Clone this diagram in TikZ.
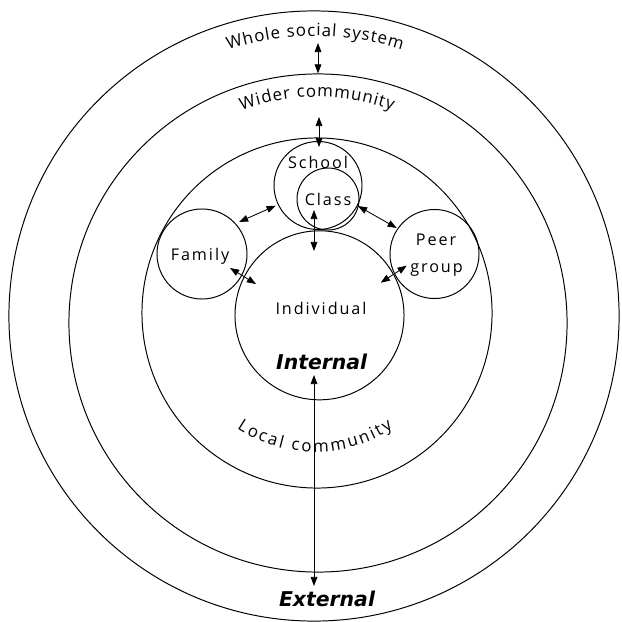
\documentclass[tikz,border=0pt]{standalone}
\usepackage{fontspec}
\usepackage{tikz}
\usetikzlibrary{arrows.meta,decorations.text}
\newfontfamily\lblfont[LetterSpace=12]{Open Sans}
\newfontfamily\arcfont{Open Sans}
\newfontfamily\bigfont{DejaVu Sans}
\tikzset{
  ring/.style={draw,circle,line width=0.7pt,inner sep=0pt},
  arr/.style={{Triangle[length=6.5pt,width=4.8pt]}-{Triangle[length=6.5pt,width=4.8pt]},line width=0.6pt},
  lbl/.style={font=\lblfont\fontsize{11.5}{13}\selectfont,inner sep=0pt,anchor=base},
  big/.style={font=\bigfont\bfseries\itshape\fontsize{14.5}{16}\selectfont,inner sep=0pt,anchor=base},
  arctext/.style 2 args={decorate,font=\arcfont\fontsize{12}{14}\selectfont,
    decoration={text effects along path,text={#1},text align=center,
      text effects/.cd,text along path,
      characters={font=\arcfont\fontsize{12}{14}\selectfont},
      character widths={inner xsep=#2}}},
}
\begin{document}
\begin{tikzpicture}[x=0.025cm,y=0.025cm]
    \useasboundingbox (0,0) rectangle (622,621);

    % the rings
    \node[ring,minimum size=15.25cm] (whole) at (314,305) {}; % whole social system
    \node[ring,minimum size=12.45cm] (wider) at (318,298) {}; % wider community
    \node[ring,minimum size=8.75cm] (local) at (317,308) {}; % local community
    \node[ring,minimum size=4.225cm] (indiv) at (319.5,305.7) {}; % individual
    \node[ring,minimum size=2.2cm] (school) at (318,435.5) {};
    \node[ring,minimum size=1.55cm] (class) at (328,422) {};
    \node[ring,minimum size=2.25cm] (family) at (202,367) {};
    \node[ring,minimum size=2.225cm] (peer) at (434.5,367) {};

    % labels
    \node[lbl] (schoollbl) at (318,453) {School};
    \node[lbl] (classlbl) at (328,416) {Class};
    \node[lbl] (familylbl) at (200,361) {Family};
    \node[lbl] (peerlbl) at (436,376) {Peer};
    \node[lbl] (grouplbl) at (436.5,349) {group};
    \node[lbl] (indivlbl) at (321,307) {Individual};
    \node[big] (internal) at (321.7,252) {Internal};
    \node[big] (external) at (327,14.3) {External};

    % labels bent along the rings
    \path[arctext={Whole social system}{0.35pt}]
        (315,305) ++(120:280) arc[start angle=120,end angle=60,radius=280];
    \path[arctext={Wider community}{0.35pt}]
        (317,304) ++(120:220) arc[start angle=120,end angle=60,radius=220];
    \path[arctext={Local community}{0.8pt}]
        (315,309) ++(220:140) arc[start angle=220,end angle=320,radius=140];

    % arrow ends
    \coordinate (wholelow) at (318,578);
    \coordinate (widerlow) at (319,504);
    \coordinate (schooltop) at (319,474);
    \coordinate (classlow) at (314,411);
    \coordinate (indivtop) at (314,370);
    \coordinate (famright) at (239,399);
    \coordinate (schoolleft) at (275.7,415.3);
    \coordinate (classright) at (358,415);
    \coordinate (peerleft) at (396.7,393);
    \coordinate (famlow) at (230,353);
    \coordinate (indivleft) at (256,337);
    \coordinate (peerlow) at (406.7,355.3);
    \coordinate (indivright) at (380.7,338.3);
    \coordinate (inside) at (314,246);
    \coordinate (outside) at (314,35);

    % arrows
    \draw[arr] (wholelow) -- (wider.north);
    \draw[arr] (widerlow) -- (schooltop);
    \draw[arr] (classlow) -- (indivtop);
    \draw[arr] (famright) -- (schoolleft);
    \draw[arr] (classright) -- (peerleft);
    \draw[arr] (famlow) -- (indivleft);
    \draw[arr] (peerlow) -- (indivright);
    \draw[arr] (inside) -- (outside); % internal to external

\end{tikzpicture}
\end{document}
